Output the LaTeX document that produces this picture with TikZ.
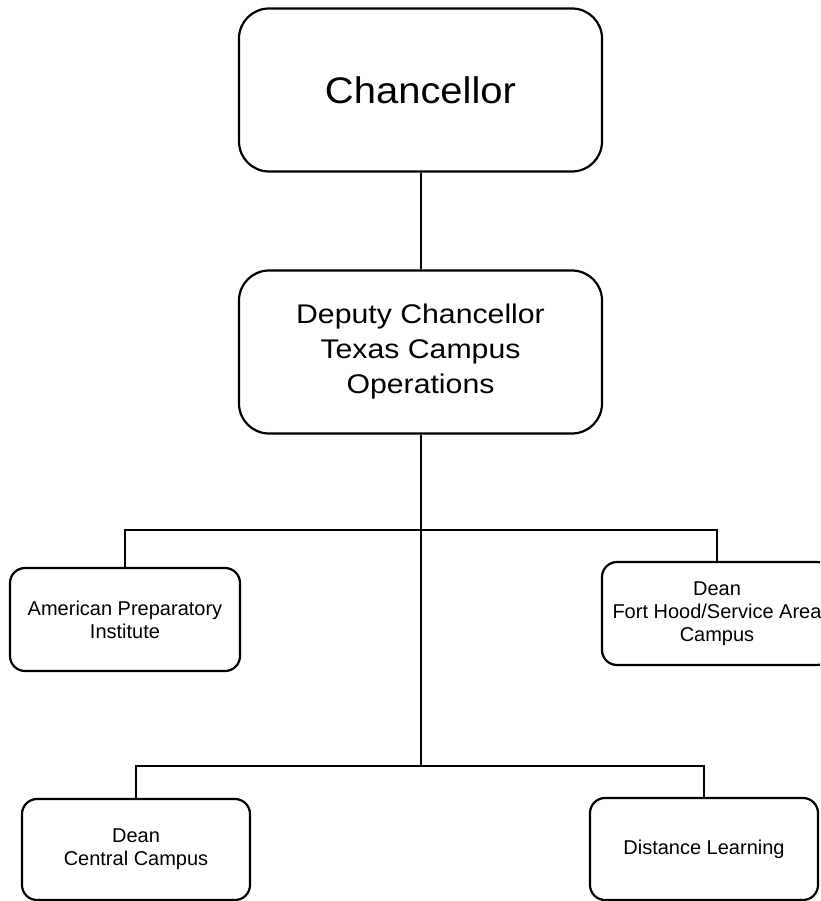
\documentclass[tikz,border=0pt]{standalone}
\usepackage{fontspec}
\setmainfont{Liberation Sans}
\newfontfamily\widefont[FakeStretch=1.08]{Liberation Sans}
\newfontfamily\widerfont[FakeStretch=1.12]{Liberation Sans}
\usetikzlibrary{positioning}

\tikzset{
    office/.style={draw, line width=2.2pt, rounded corners=15pt, align=center, inner sep=0pt, minimum width=230pt, minimum height=103pt, font=\fontsize{20}{23}\selectfont},
    topoffice/.style={office, rounded corners=30pt, minimum width=363pt, minimum height=163pt},
    link/.style={line width=2pt}
}

\begin{document}
\begin{tikzpicture}[x=1pt, y=-1pt]
    \useasboundingbox (0,0) rectangle (820,901);
    \clip (0,0) rectangle (820,901);

    \node[topoffice, font=\widefont\fontsize{37}{42}\selectfont] (chancellor) at (420.5,90) {Chancellor};
    \node[topoffice, font=\widerfont\fontsize{27}{35}\selectfont] (deputy) at (420.5,352) {Deputy Chancellor\\Texas Campus\\Operations};

    \node[office] (prep) at (125,619.5) {American Preparatory\\Institute};
    \node[office] (forthood) at (717,613.5) {Dean\\Fort Hood/Service Area\\Campus};

    \node[office, minimum width=228pt, minimum height=101pt] (central) at (136,849.5) {Dean\\Central Campus};
    \node[office, minimum width=228pt, minimum height=102pt] (distance) at (704,849) {Distance Learning};

    \coordinate (upperbar) at (420.5,530);
    \coordinate (lowerbar) at (420.5,766);

    \draw[link] (chancellor.south) -- (deputy.north);
    \draw[link] (deputy.south) -- (lowerbar);
    \draw[link] (prep.north) |- (upperbar) -| (forthood.north);
    \draw[link] (central.north) |- (lowerbar) -| (distance.north);
\end{tikzpicture}
\end{document}
